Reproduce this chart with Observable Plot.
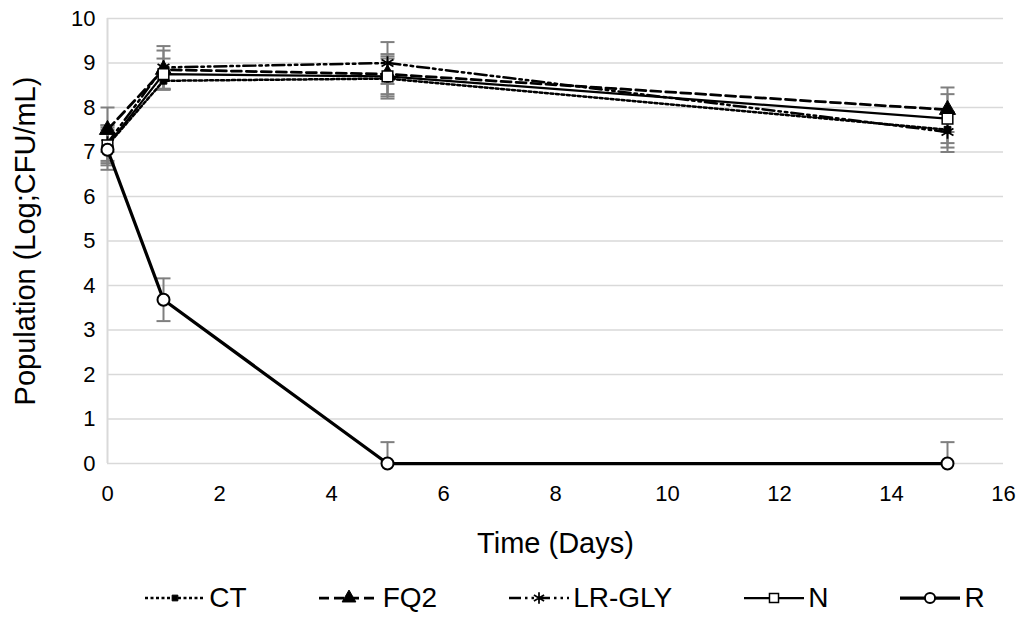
<!DOCTYPE html>
<html>
<head>
<meta charset="utf-8">
<script src="https://cdn.jsdelivr.net/npm/d3@7"></script>
<script src="https://cdn.jsdelivr.net/npm/@observablehq/plot@0.6"></script>
<style>
  body { margin: 0; background: #fff; font-family: "Liberation Sans", Arial, sans-serif; }
  #legend { display: flex; justify-content: center; align-items: center; gap: 70px; height: 45px; font-size: 28px; color: #000; padding-left: 100px; }
  .item { display: flex; align-items: center; gap: 2px; }
</style>
</head>
<body>
<div id="chart"></div>
<div id="legend"></div>
<script>
const days = [0, 1, 5, 15];
const seriesNames = ["CT", "FQ2", "LR-GLY", "N", "R"];
const CT     = [7.15, 8.60, 8.65, 7.50];
const FQ2    = [7.50, 8.85, 8.75, 7.95];
const LRGLY  = [7.20, 8.90, 9.00, 7.45];
const N      = [7.15, 8.75, 8.70, 7.75];
const R      = [7.05, 3.68, 0.00, 0.00];
const CT_err    = [0.45, 0.20, 0.45, 0.40];
const FQ2_err   = [0.50, 0.43, 0.45, 0.50];
const LRGLY_err = [0.40, 0.48, 0.47, 0.45];
const N_err     = [0.40, 0.35, 0.45, 0.55];
const R_err     = [0.45, 0.48, 0.48, 0.48];
const xTicks = [0, 2, 4, 6, 8, 10, 12, 14, 16];
const yTicks = [0, 1, 2, 3, 4, 5, 6, 7, 8, 9, 10];

const values = [CT, FQ2, LRGLY, N, R];
const errs = [CT_err, FQ2_err, LRGLY_err, N_err, R_err];
const styles = {
  "CT":     {dash: "3,2.5", width: 2.5, symbol: "square", r: 3.8, fill: "black", stroke: "black", sw: 1},
  "FQ2":    {dash: "10,5", width: 2.75, symbol: "triangle", r: 6, fill: "black", stroke: "black", sw: 1},
  "LR-GLY": {dash: "12,4,2.5,4,2.5,4", width: 2.5, symbol: "asterisk", r: 6.5, fill: "none", stroke: "black", sw: 1.75},
  "N":      {dash: null, width: 2.25, symbol: "square", r: 6, fill: "white", stroke: "black", sw: 1.5},
  "R":      {dash: null, width: 3.25, symbol: "circle", r: 6, fill: "white", stroke: "black", sw: 2}
};

const data = [];
seriesNames.forEach((s, i) => days.forEach((d, j) => data.push({series: s, day: d, v: values[i][j], e: errs[i][j]})));

const capSymbol = {
  draw(context, size) {
    const w = Math.sqrt(size / Math.PI);
    context.moveTo(-w, 0);
    context.lineTo(w, 0);
  }
};

const marks = [
  Plot.gridY(yTicks, {stroke: "#d9d9d9", strokeOpacity: 1, strokeWidth: 1.5}),
  Plot.ruleX([0], {stroke: "#d9d9d9", strokeWidth: 2}),
  Plot.axisX(xTicks, {tickSize: 0, tickPadding: 22, fontSize: 22, label: null}),
  Plot.axisY(yTicks, {tickSize: 0, tickPadding: 12, fontSize: 22, label: null}),
  Plot.text(["Population (Log;CFU/mL)"], {frameAnchor: "left", dx: -82, rotate: -90, textAnchor: "middle", fontSize: 29}),
  Plot.text(["Time (Days)"], {frameAnchor: "bottom", dy: 89, textAnchor: "middle", fontSize: 29})
];

for (const s of seriesNames) {
  const sd = data.filter(d => d.series === s);
  marks.push(
    Plot.ruleX(sd, {x: "day", y1: d => Math.max(0, d.v - d.e), y2: d => d.v + d.e, stroke: "#7f7f7f", strokeWidth: 2}),
    Plot.dot(sd, {x: "day", y: d => d.v + d.e, symbol: capSymbol, r: 7, stroke: "#7f7f7f", strokeWidth: 2}),
    Plot.dot(sd.filter(d => d.v - d.e >= 0), {x: "day", y: d => d.v - d.e, symbol: capSymbol, r: 7, stroke: "#7f7f7f", strokeWidth: 2})
  );
}
for (const s of seriesNames) {
  const st = styles[s];
  const sd = data.filter(d => d.series === s);
  marks.push(
    Plot.line(sd, {x: "day", y: "v", stroke: "black", strokeWidth: st.width, strokeDasharray: st.dash}),
    Plot.dot(sd, {x: "day", y: "v", symbol: st.symbol, r: st.r, fill: st.fill, stroke: st.stroke, strokeWidth: st.sw})
  );
}

const chart = Plot.plot({
  width: 1028,
  height: 575,
  marginLeft: 107,
  marginRight: 25,
  marginTop: 18,
  marginBottom: 112,
  style: {fontFamily: "'Liberation Sans', Arial, sans-serif", fontSize: "22px", color: "#000", background: "white"},
  x: {domain: [0, 16]},
  y: {domain: [0, 10]},
  marks
});
document.getElementById("chart").appendChild(chart);

// Legend
const legend = d3.select("#legend");
const symGen = {square: d3.symbolSquare, triangle: d3.symbolTriangle, asterisk: d3.symbolAsterisk, circle: d3.symbolCircle};
for (const s of seriesNames) {
  const st = styles[s];
  const item = legend.append("div").attr("class", "item");
  const svg = item.append("svg").attr("width", 64).attr("height", 24);
  svg.append("line").attr("x1", 2).attr("x2", 62).attr("y1", 12).attr("y2", 12)
    .attr("stroke", "black").attr("stroke-width", st.width)
    .attr("stroke-dasharray", st.dash);
  const rr = st.r * 0.85;
  svg.append("path").attr("transform", "translate(32,12)")
    .attr("d", d3.symbol(symGen[st.symbol], rr * rr * Math.PI)())
    .attr("fill", st.fill).attr("stroke", st.stroke).attr("stroke-width", st.sw);
  item.append("span").text(s);
}
</script>
</body>
</html>
